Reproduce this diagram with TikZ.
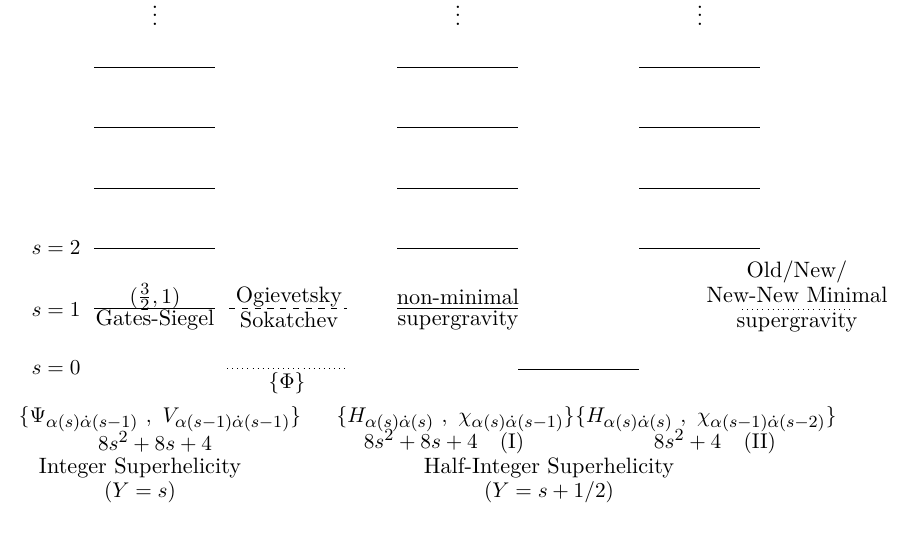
\documentclass[tikz,border=0pt]{standalone}
\usepackage{amsmath}
\DeclareMathSizes{10.45}{10.45}{8}{6}
\begin{document}
\begin{tikzpicture}[x=0.016529cm,y=-0.016529cm,
  lvl/.style={line width=0.45pt},
  txt/.style={inner sep=0pt, align=center, font=\fontsize{10.45}{12.6}\selectfont}]
\useasboundingbox (0,0) rectangle (922,537);
% vdots
\node[txt] (v1) at (155,9) {$\vdots$};
\node[txt] (v2) at (458,9) {$\vdots$};
\node[txt] (v3) at (700,9) {$\vdots$};
% level lines
\foreach \yy in {67,127,188,248} {
  \draw[lvl] (94,\yy) -- (215,\yy);
  \draw[lvl] (397,\yy) -- (518,\yy);
  \draw[lvl] (639,\yy) -- (760,\yy);
}
\draw[lvl] (94,308) -- (215,308);
\draw[lvl] (397,308) -- (518,308);
\draw[lvl] (518,369) -- (639,369);
\draw[dashed] (229,308) -- (347,308);
\draw[dotted] (227,368) -- (345,368);
\draw[dotted] (742,309) -- (850,309);
% s labels
\node[txt] (s2) at (56,248) {$s=2$};
\node[txt] (s1) at (56,310) {$s=1$};
\node[txt] (s0) at (56,368) {$s=0$};
% s=1 labels
\node[txt] (gsA) at (155,297) {$(\frac{3}{2},1)$};
\node[txt] (gsB) at (155,320) {Gates-Siegel};
\node[txt] (osA) at (289,297) {Ogievetsky};
\node[txt] (osB) at (289,320) {Sokatchev};
\node[txt] (nmA) at (458,297) {non-minimal};
\node[txt] (nmB) at (458,320) {supergravity};
\node[txt] (onA) at (797,272) {Old/New/};
\node[txt] (onB) at (797,295) {New-New Minimal};
\node[txt] (onC) at (797,322) {supergravity};
\node[txt] (phi) at (287,383) {$\{\Phi\}$};
% bottom
\node[txt] (psi) at (160,419) {$\{\Psi_{\alpha(s)\dot\alpha(s-1)}\ ,\ V_{\alpha(s-1)\dot\alpha(s-1)}\}$};
\node[txt] (d0) at (155,442) {$8s^2+8s+4$};
\node[txt] (intS) at (140,468) {Integer Superhelicity};
\node[txt] (intY) at (140,492) {$(Y=s)$};
\node[txt, anchor=east] (h1) at (575,419) {$\{H_{\alpha(s)\dot\alpha(s)}\ ,\ \chi_{\alpha(s)\dot\alpha(s-1)}\}$};
\node[txt, anchor=west] (h2) at (h1.east) {$\{H_{\alpha(s)\dot\alpha(s)}\ ,\ \chi_{\alpha(s-1)\dot\alpha(s-2)}\}$};
\node[txt] (d1) at (444,442) {$8s^2+8s+4\quad(\mathrm{I})$};
\node[txt] (d2) at (715,442) {$8s^2+4\quad(\mathrm{II})$};
\node[txt] (halfS) at (549,468) {Half-Integer Superhelicity};
\node[txt] (halfY) at (549,492) {$(Y=s+1/2)$};
\end{tikzpicture}
\end{document}
